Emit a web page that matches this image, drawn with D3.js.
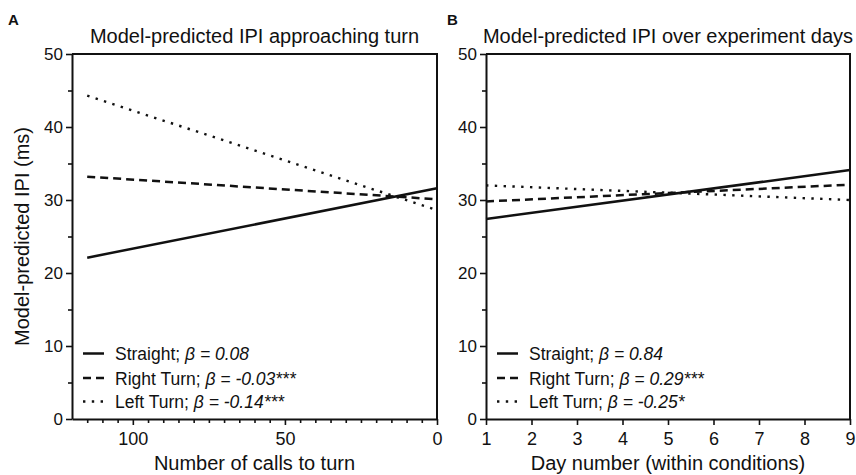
<!DOCTYPE html>
<html>
<head>
<meta charset="utf-8">
<script src="https://cdn.jsdelivr.net/npm/d3@7"></script>
<style>
  html, body { margin: 0; padding: 0; background: #fff; }
  svg { display: block; font-family: "Liberation Sans", Arial, Helvetica, sans-serif; }
</style>
</head>
<body>
<svg id="chart" width="856" height="475"></svg>
<script>
// ---- data ----
const seriesNames = ["Straight", "Right Turn", "Left Turn"];

// Panel A: predicted IPI vs. number of calls remaining before the turn
const callsToTurn = [115, 0];
const callsStraight = [22.1, 31.6];
const callsRight = [33.2, 30.1];
const callsLeft = [44.3, 28.6];
const callsBeta = ["0.08", "-0.03***", "-0.14***"];

// Panel B: predicted IPI vs. day number
const dayNumber = [1, 9];
const daysStraight = [27.4, 34.1];
const daysRight = [29.8, 32.1];
const daysLeft = [32.0, 30.0];
const daysBeta = ["0.84", "0.29***", "-0.25*"];

const yTicks = [0, 10, 20, 30, 40, 50];
const yMinorTicks = [5, 15, 25, 35, 45];
const callTicks = [100, 50, 0];
const callMinorTicks = d3.range(115, 0, -5).filter(v => v % 50 !== 0);
const dayTicks = [1, 2, 3, 4, 5, 6, 7, 8, 9];

// ---- layout ----
const svg = d3.select("#chart");
const plotTop = 54, plotBottom = 419;
const ink = "#111";
const dashStyles = [null, "8,5", "2.4,6.4"];

const y = d3.scaleLinear().domain([0, 50]).range([plotBottom, plotTop]);

function panel(opts) {
  const g = svg.append("g");
  const x = opts.x;
  const [x0, x1] = x.range();

  // frame: top and right edges
  g.append("path")
    .attr("d", `M${x0},${plotTop}H${x1}V${plotBottom}`)
    .attr("fill", "none").attr("stroke", ink).attr("stroke-width", 2);

  // y axis
  const yAxis = g.append("g").attr("transform", `translate(${x0},0)`)
    .call(d3.axisLeft(y).tickValues(yTicks).tickSize(6).tickSizeOuter(0).tickPadding(3));
  g.append("g").attr("transform", `translate(${x0},0)`)
    .call(d3.axisLeft(y).tickValues(yMinorTicks).tickSize(4).tickFormat(""))
    .call(a => a.select(".domain").remove());

  // x axis
  const xAxis = g.append("g").attr("transform", `translate(0,${plotBottom})`)
    .call(d3.axisBottom(x).tickValues(opts.ticks).tickSize(6).tickSizeOuter(0).tickPadding(7));
  if (opts.minor) {
    g.append("g").attr("transform", `translate(0,${plotBottom})`)
      .call(d3.axisBottom(x).tickValues(opts.minor).tickSize(4).tickFormat(""))
      .call(a => a.select(".domain").remove());
  }

  g.selectAll(".domain").attr("stroke", ink).attr("stroke-width", 2);
  g.selectAll(".tick line").attr("stroke", ink).attr("stroke-width", 1.6);
  yAxis.selectAll("text").attr("font-size", 17).attr("fill", ink)
    .attr("font-family", "Liberation Sans, Arial, sans-serif");
  xAxis.selectAll("text").attr("font-size", 18).attr("fill", ink)
    .attr("font-family", "Liberation Sans, Arial, sans-serif");

  // regression lines
  const line = d3.line().x(d => x(d[0])).y(d => y(d[1]));
  opts.series.forEach((vals, i) => {
    g.append("path")
      .datum(opts.xs.map((v, k) => [v, vals[k]]))
      .attr("d", line)
      .attr("fill", "none")
      .attr("stroke", ink)
      .attr("stroke-width", i === 2 ? 2.4 : 2.5)
      .attr("stroke-dasharray", dashStyles[i]);
  });

  // legend
  const lg = g.append("g");
  const rowY = [353.5, 378, 401.5];
  seriesNames.forEach((name, i) => {
    lg.append("line")
      .attr("x1", opts.legendX).attr("x2", opts.legendX + 21)
      .attr("y1", rowY[i]).attr("y2", rowY[i])
      .attr("stroke", ink).attr("stroke-width", 2.5)
      .attr("stroke-dasharray", dashStyles[i]);
    const t = lg.append("text")
      .attr("x", opts.legendX + 32).attr("y", rowY[i] + 6.5)
      .attr("font-size", 17.5).attr("fill", ink);
    t.append("tspan").text(name + "; ");
    t.append("tspan").attr("font-style", "italic").text("β = " + opts.beta[i]);
  });

  // titles
  g.append("text")
    .attr("x", (x0 + x1) / 2).attr("y", 42.5)
    .attr("text-anchor", "middle").attr("font-size", 20).attr("fill", ink)
    .text(opts.title);
  g.append("text")
    .attr("x", (x0 + x1) / 2).attr("y", 469.5)
    .attr("text-anchor", "middle").attr("font-size", 20).attr("fill", ink)
    .text(opts.xTitle);
  g.append("text")
    .attr("x", opts.letterX).attr("y", 25)
    .attr("font-size", 15).attr("font-weight", "bold").attr("fill", ink)
    .text(opts.letter);
}

panel({
  x: d3.scaleLinear().domain([120, 0]).range([72, 437]),
  xs: callsToTurn,
  series: [callsStraight, callsRight, callsLeft],
  beta: callsBeta,
  ticks: callTicks,
  minor: callMinorTicks,
  legendX: 83,
  title: "Model-predicted IPI approaching turn",
  xTitle: "Number of calls to turn",
  letter: "A",
  letterX: 8
});

panel({
  x: d3.scaleLinear().domain([1, 9]).range([486, 850]),
  xs: dayNumber,
  series: [daysStraight, daysRight, daysLeft],
  beta: daysBeta,
  ticks: dayTicks,
  minor: null,
  legendX: 497,
  title: "Model-predicted IPI over experiment days",
  xTitle: "Day number (within conditions)",
  letter: "B",
  letterX: 447
});

// shared y-axis title
svg.append("text")
  .attr("transform", `translate(29,${(plotTop + plotBottom) / 2}) rotate(-90)`)
  .attr("text-anchor", "middle").attr("font-size", 20).attr("fill", ink)
  .text("Model-predicted IPI (ms)");
</script>
</body>
</html>
